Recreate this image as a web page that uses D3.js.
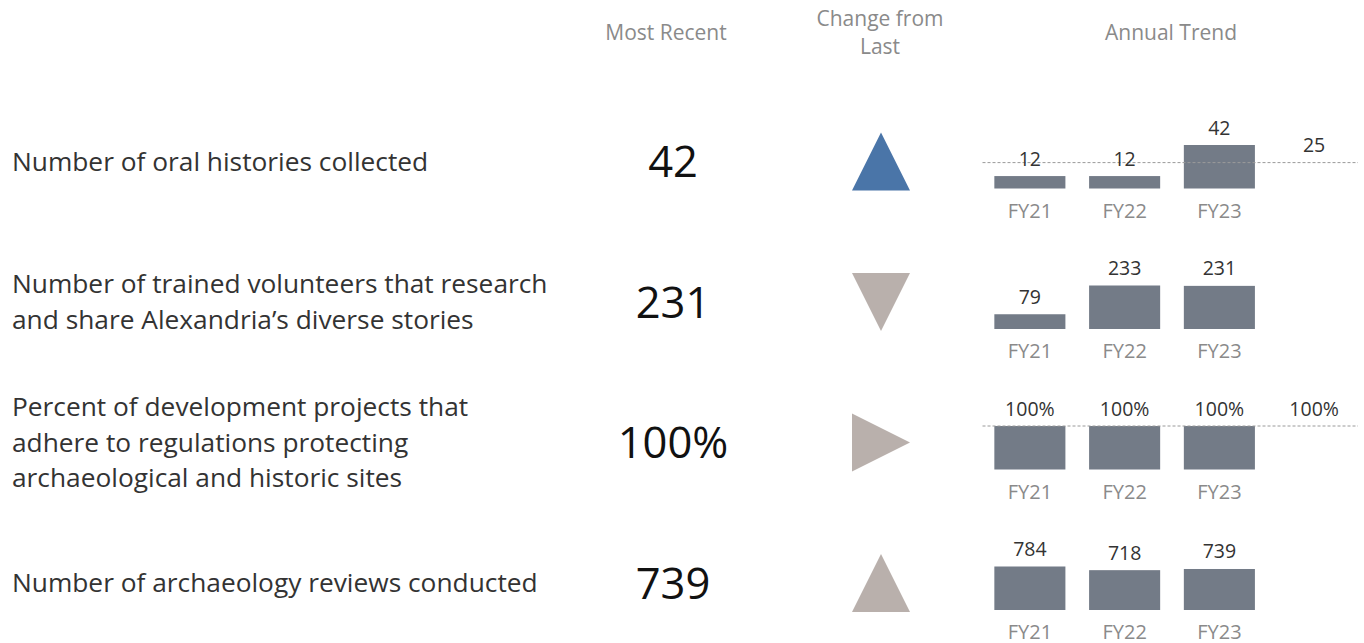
<!DOCTYPE html>
<html lang="en">
<head>
    <meta charset="UTF-8">
    <title>Annual Trend Scorecard</title>
    <script src="https://d3js.org/d3.v7.min.js"></script>
    <style>
        body { margin: 0; background: #fff; }
        text { font-family: "Open Sans", sans-serif; }
    </style>
</head>
<body>
    <svg width="1364" height="643"></svg>

    <script>
        // measures, one per row
        const measures = [
            ["Number of oral histories collected"],
            ["Number of trained volunteers that research", "and share Alexandria\u2019s diverse stories"],
            ["Percent of development projects that", "adhere to regulations protecting", "archaeological and historic sites"],
            ["Number of archaeology reviews conducted"]
        ];
        const mostRecent = ["42", "231", "100%", "739"];
        const change = ["up", "down", "flat", "up"];
        const years = ["FY21", "FY22", "FY23"];
        const trend = [
            [12, 12, 42],
            [79, 233, 231],
            [100, 100, 100],
            [784, 718, 739]
        ];
        const targets = [25, null, 100, null];
        const suffix = ["", "", "%", ""];

        const width = 1364, height = 643;
        const svg = d3.select("svg");

        // row centres
        const rowY = d3.scalePoint()
            .domain(d3.range(measures.length))
            .range([161.5, 583]);

        // bar columns (three years plus a slot for the target label)
        const x = d3.scaleBand()
            .domain([...years, "target"])
            .range([982.5, 1361.5])
            .paddingInner(0.25)
            .paddingOuter(0.125);

        // headers
        const header = svg.append("g")
            .attr("fill", "#8a8a8a")
            .attr("font-size", 21)
            .attr("text-anchor", "middle");
        header.append("text").attr("x", 666).attr("y", 40).text("Most Recent");
        header.append("text").attr("x", 880).attr("y", 26).text("Change from");
        header.append("text").attr("x", 880).attr("y", 54).text("Last");
        header.append("text").attr("x", 1171).attr("y", 40).text("Annual Trend");

        const rows = svg.selectAll("g.row")
            .data(measures)
            .join("g")
            .attr("class", "row");

        // measure names
        rows.append("text")
            .attr("x", 12)
            .attr("fill", "#333")
            .attr("font-size", 26.3)
            .each(function(lines, i) {
                const lh = 35.7;
                const top = rowY(i) - (lines.length - 1) * lh / 2;
                d3.select(this).selectAll("tspan")
                    .data(lines)
                    .join("tspan")
                    .attr("x", 12)
                    .attr("y", (d, j) => top + j * lh)
                    .attr("dy", "0.35em")
                    .text(d => d);
            });

        // most recent value
        rows.append("text")
            .attr("x", 673)
            .attr("y", (d, i) => rowY(i))
            .attr("dy", "0.36em")
            .attr("text-anchor", "middle")
            .attr("font-size", 43.5)
            .attr("fill", "#111")
            .text((d, i) => mostRecent[i]);

        // change indicator: isosceles triangle, 58 wide x 58 tall
        const s = 29;
        const shapes = {
            up: `M0,${-s}L${s},${s}L${-s},${s}Z`,
            down: `M0,${s}L${s},${-s}L${-s},${-s}Z`,
            flat: `M${s},0L${-s},${-s}L${-s},${s}Z`
        };
        rows.append("path")
            .attr("d", (d, i) => shapes[change[i]])
            .attr("fill", (d, i) => i === 0 ? "#4a75a8" : "#b9b0ac")
            .attr("transform", (d, i) => `translate(881,${rowY(i)})`);

        // annual trend bars
        const barMax = 43.5;
        rows.each(function(d, i) {
            const g = d3.select(this);
            const base = rowY(i) + 27;
            const vals = trend[i];
            const y = d3.scaleLinear()
                .domain([0, d3.max([...vals, targets[i] || 0])])
                .range([base, base - barMax]);
            const fmt = v => v + suffix[i];

            g.selectAll("rect")
                .data(vals)
                .join("rect")
                .attr("x", (v, k) => x(years[k]))
                .attr("width", x.bandwidth())
                .attr("y", v => y(v))
                .attr("height", v => base - y(v))
                .attr("fill", "#737b87");

            if (targets[i] != null) {
                g.append("line")
                    .attr("x1", x.range()[0])
                    .attr("x2", 1358)
                    .attr("y1", y(targets[i]))
                    .attr("y2", y(targets[i]))
                    .attr("stroke", "#9a9a9a")
                    .attr("stroke-width", 1)
                    .attr("stroke-dasharray", "3,2");
                g.append("text")
                    .attr("x", x("target") + x.bandwidth() / 2)
                    .attr("y", y(targets[i]) - 10.5)
                    .attr("text-anchor", "middle")
                    .attr("font-size", 19.5)
                    .attr("fill", "#333")
                    .text(fmt(targets[i]));
            }

            g.selectAll("text.val")
                .data(vals)
                .join("text")
                .attr("class", "val")
                .attr("x", (v, k) => x(years[k]) + x.bandwidth() / 2)
                .attr("y", v => y(v) - 10.5)
                .attr("text-anchor", "middle")
                .attr("font-size", 19.5)
                .attr("fill", "#333")
                .text(fmt);

            g.selectAll("text.yr")
                .data(years)
                .join("text")
                .attr("class", "yr")
                .attr("x", k => x(k) + x.bandwidth() / 2)
                .attr("y", base + 29)
                .attr("text-anchor", "middle")
                .attr("font-size", 20)
                .attr("fill", "#8a8a8a")
                .text(k => k);
        });
    </script>
</body>
</html>
